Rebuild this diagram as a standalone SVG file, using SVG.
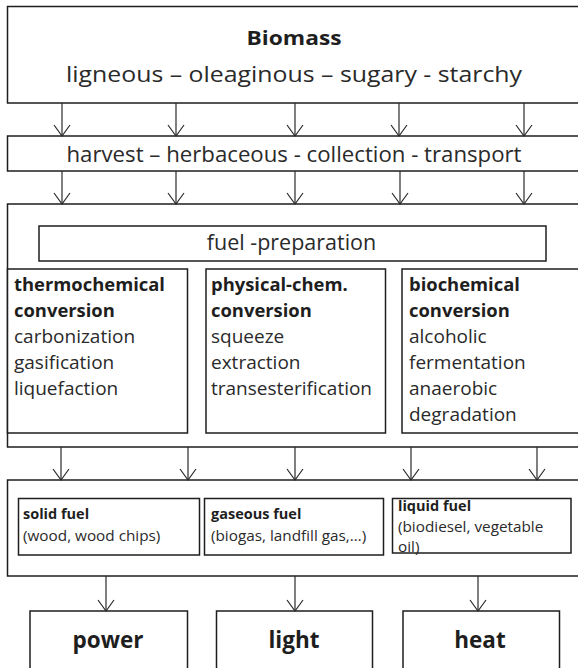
<svg xmlns="http://www.w3.org/2000/svg" width="578" height="668" viewBox="0 0 578 668">
<style>
  .box { fill: #ffffff; stroke: #1e1e1e; stroke-width: 1.5; }
  .t { font-family: "Open Sans", "Noto Sans", sans-serif; fill: #2a2a2a; }
  .b { font-weight: bold; fill: #1e1e1e; }
  .conv { font-size: 19px; }
  .convb { font-size: 18.4px; }
  .fuel { font-size: 15.3px; }
  .fuelb { font-size: 14.5px; }
  .out { font-size: 22.5px; }
  .arrow { stroke: #2a2a2a; stroke-width: 1.2; fill: none; marker-end: url(#v); }
</style>
<defs>
  <marker id="v" markerUnits="userSpaceOnUse" viewBox="-14 -12 28 24" markerWidth="28" markerHeight="24" refX="0" refY="0" orient="auto" overflow="visible">
    <path d="M -11 -8 L 0 0 L -11 8" fill="none" stroke="#2a2a2a" stroke-width="1.2"/>
  </marker>
</defs>
<rect x="0" y="0" width="578" height="668" fill="#ffffff"/>

<g id="biomass">
  <rect class="box" x="7.5" y="6.5" width="590" height="96.5"/>
  <text class="t b" x="294" y="44.5" font-size="20" text-anchor="middle" textLength="95" lengthAdjust="spacingAndGlyphs">Biomass</text>
  <text class="t" x="294" y="81.5" font-size="22" text-anchor="middle" textLength="456" lengthAdjust="spacingAndGlyphs">ligneous – oleaginous – sugary - starchy</text>
</g>

<g id="harvest">
  <rect class="box" x="7.5" y="136" width="590" height="35"/>
  <text class="t" x="294" y="161.5" font-size="22" text-anchor="middle" textLength="455" lengthAdjust="spacingAndGlyphs">harvest – herbaceous - collection - transport</text>
</g>

<g id="conversion-stage">
  <rect class="box" x="7.5" y="204" width="590" height="243"/>
</g>

<g id="fuel-preparation">
  <rect class="box" x="39" y="226" width="507" height="35"/>
  <text class="t" x="291.5" y="250" font-size="21.5" text-anchor="middle">fuel -preparation</text>
</g>

<g id="thermochemical">
  <rect class="box" x="7.5" y="269" width="180" height="164"/>
  <text class="t convb b" x="14" y="291">thermochemical</text>
  <text class="t convb b" x="14" y="317">conversion</text>
  <text class="t conv" x="14" y="343">carbonization</text>
  <text class="t conv" x="14" y="369">gasification</text>
  <text class="t conv" x="14" y="395">liquefaction</text>
</g>

<g id="physical-chem">
  <rect class="box" x="206" y="269" width="179.5" height="164"/>
  <text class="t convb b" x="211" y="291">physical-chem.</text>
  <text class="t convb b" x="211" y="317">conversion</text>
  <text class="t conv" x="211" y="343">squeeze</text>
  <text class="t conv" x="211" y="369">extraction</text>
  <text class="t conv" x="211" y="395">transesterification</text>
</g>

<g id="biochemical">
  <rect class="box" x="402" y="269" width="200" height="164"/>
  <text class="t convb b" x="409" y="291">biochemical</text>
  <text class="t convb b" x="409" y="317">conversion</text>
  <text class="t conv" x="409" y="343">alcoholic</text>
  <text class="t conv" x="409" y="369">fermentation</text>
  <text class="t conv" x="409" y="395">anaerobic</text>
  <text class="t conv" x="409" y="421">degradation</text>
</g>

<g id="fuels">
  <rect class="box" x="7.5" y="480" width="590" height="96"/>
</g>

<g id="solid-fuel">
  <rect class="box" x="18.5" y="498.5" width="181" height="56.5"/>
  <text class="t b fuelb" x="23" y="519">solid fuel</text>
  <text class="t fuel" x="23" y="541">(wood, wood chips)</text>
</g>

<g id="gaseous-fuel">
  <rect class="box" x="204.5" y="498.5" width="179" height="56.5"/>
  <text class="t b fuelb" x="211" y="519">gaseous fuel</text>
  <text class="t fuel" x="211" y="541">(biogas, landfill gas,…)</text>
</g>

<g id="liquid-fuel">
  <rect class="box" x="392.5" y="498.5" width="178.5" height="54.5"/>
  <text class="t b fuelb" x="398" y="511">liquid fuel</text>
  <text class="t fuel" x="398" y="532">(biodiesel, vegetable</text>
  <text class="t fuel" x="398" y="552">oil)</text>
</g>

<g id="power">
  <rect class="box" x="30" y="611" width="157.5" height="80"/>
  <text class="t b out" x="108" y="648" text-anchor="middle">power</text>
</g>

<g id="light">
  <rect class="box" x="216.5" y="611" width="156" height="80"/>
  <text class="t b out" x="294" y="648" text-anchor="middle">light</text>
</g>

<g id="heat">
  <rect class="box" x="403" y="611" width="156.5" height="80"/>
  <text class="t b out" x="480" y="648" text-anchor="middle">heat</text>
</g>

<g id="connectors">
  <line class="arrow" x1="62" y1="103" x2="62" y2="136"/>
  <line class="arrow" x1="176" y1="103" x2="176" y2="136"/>
  <line class="arrow" x1="295" y1="103" x2="295" y2="136"/>
  <line class="arrow" x1="399" y1="103" x2="399" y2="136"/>
  <line class="arrow" x1="524" y1="103" x2="524" y2="136"/>

  <line class="arrow" x1="62" y1="171" x2="62" y2="204"/>
  <line class="arrow" x1="176" y1="171" x2="176" y2="204"/>
  <line class="arrow" x1="295" y1="171" x2="295" y2="204"/>
  <line class="arrow" x1="400" y1="171" x2="400" y2="204"/>
  <line class="arrow" x1="524" y1="171" x2="524" y2="204"/>

  <line class="arrow" x1="61" y1="447" x2="61" y2="480"/>
  <line class="arrow" x1="188" y1="447" x2="188" y2="480"/>
  <line class="arrow" x1="295" y1="447" x2="295" y2="480"/>
  <line class="arrow" x1="411" y1="447" x2="411" y2="480"/>
  <line class="arrow" x1="537" y1="447" x2="537" y2="480"/>

  <line class="arrow" x1="106" y1="576" x2="106" y2="611"/>
  <line class="arrow" x1="295" y1="576" x2="295" y2="611"/>
  <line class="arrow" x1="478" y1="576" x2="478" y2="611"/>
</g>
</svg>
